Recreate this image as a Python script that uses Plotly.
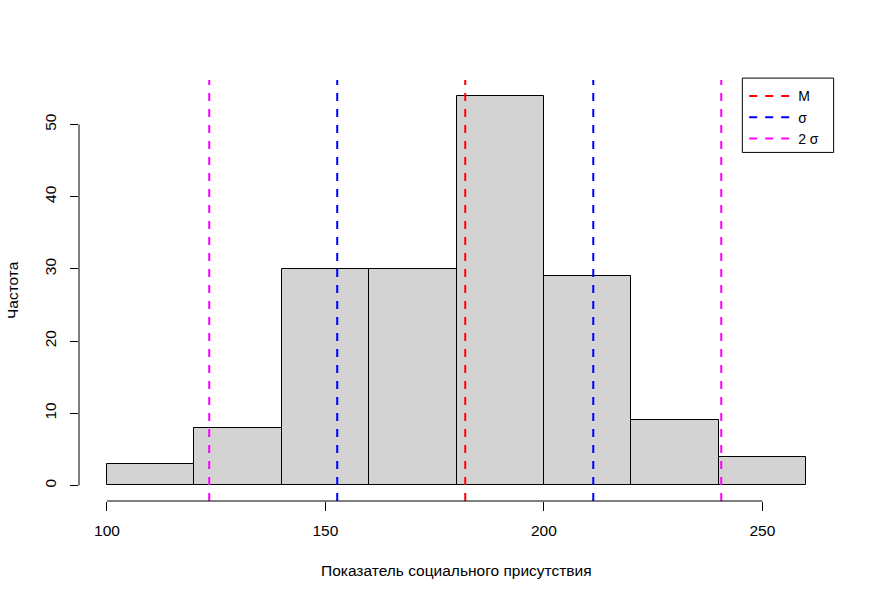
import plotly.graph_objects as go

# Data
bin_edges = [100, 120, 140, 160, 180, 200, 220, 240, 260]
counts = [3, 8, 30, 30, 54, 29, 9, 4]
mean_val = 182.0
sd_val = 29.3
x_ticks = [100, 150, 200, 250]
y_ticks = [0, 10, 20, 30, 40, 50]
x_title = "Показатель социального присутствия"
y_title = "Частота"
legend_labels = ["M", "σ", "2 σ"]

mids = [(a + b) / 2 for a, b in zip(bin_edges[:-1], bin_edges[1:])]
widths = [b - a for a, b in zip(bin_edges[:-1], bin_edges[1:])]

FONT = "Liberation Sans"
FS = 15.5

fig = go.Figure()
fig.add_trace(go.Bar(
    x=mids, y=counts, width=widths,
    marker=dict(color="#D3D3D3", line=dict(color="black", width=1)),
    showlegend=False, hoverinfo="skip",
))

# axis extents like R (4% expansion)
xr = [bin_edges[0] - 0.04 * (bin_edges[-1] - bin_edges[0]),
      bin_edges[-1] + 0.04 * (bin_edges[-1] - bin_edges[0])]
ymax = max(counts)
yr = [-0.04 * ymax, ymax * 1.04]

dash = "8px,8px"
lines = [
    (mean_val, "red", legend_labels[0], True, 1),
    (mean_val - sd_val, "blue", legend_labels[1], True, 2),
    (mean_val + sd_val, "blue", legend_labels[1], False, 2),
    (mean_val - 2 * sd_val, "magenta", legend_labels[2], True, 3),
    (mean_val + 2 * sd_val, "magenta", legend_labels[2], False, 3),
]

# legend frame (R-style box)
fig.add_shape(type="rect", xref="paper", yref="paper", x0=0.8786, x1=0.9995, y0=0.828, y1=1.0045,
              line=dict(color="black", width=1), fillcolor="white", layer="above")

for xv, col, name, sl, rank in lines:
    fig.add_shape(type="line", xref="x", yref="paper", x0=xv, x1=xv, y0=0, y1=1,
                  line=dict(color=col, width=2, dash=dash),
                  name=name, showlegend=sl, legendgroup=name, legendrank=rank)

# R-style axis lines
fig.add_shape(type="line", xref="x", yref="paper", x0=x_ticks[0], x1=x_ticks[-1], y0=0, y1=0,
              line=dict(color="black", width=1))
fig.add_shape(type="line", xref="paper", yref="y", x0=0, x1=0, y0=y_ticks[0], y1=y_ticks[-1],
              line=dict(color="black", width=1))

fig.add_annotation(text=x_title, xref="paper", yref="paper", x=0.5, y=-0.165,
                   showarrow=False, font=dict(family=FONT, size=FS, color="black"),
                   xanchor="center", yanchor="middle")
fig.add_annotation(text=y_title, xref="paper", yref="paper", x=-0.088, y=0.5,
                   showarrow=False, textangle=-90, font=dict(family=FONT, size=FS, color="black"),
                   xanchor="center", yanchor="middle")

fig.update_xaxes(range=xr, tickvals=x_ticks, ticks="outside", ticklen=9, tickcolor="black",
                 showgrid=False, zeroline=False, showline=False, ticklabelstandoff=6,
                 tickfont=dict(family=FONT, size=FS, color="black"))
fig.update_yaxes(range=yr, tickvals=y_ticks, ticks="outside", ticklen=8, tickcolor="black",
                 showgrid=False, zeroline=False, showline=False, tickangle=-90,
                 ticklabelstandoff=8,
                 tickfont=dict(family=FONT, size=FS, color="black"))

fig.update_layout(
    width=874, height=599,
    margin=dict(l=79, r=40, t=79.5, b=98.4),
    plot_bgcolor="white", paper_bgcolor="white",
    bargap=0,
    font=dict(family=FONT, size=FS, color="black"),
    legend=dict(x=0.881, y=0.999, xanchor="left", yanchor="top",
                borderwidth=0, bgcolor="rgba(0,0,0,0)",
                font=dict(family=FONT, size=14, color="black"),
                itemwidth=44, tracegroupgap=0),
)

fig.write_html("out.html")
